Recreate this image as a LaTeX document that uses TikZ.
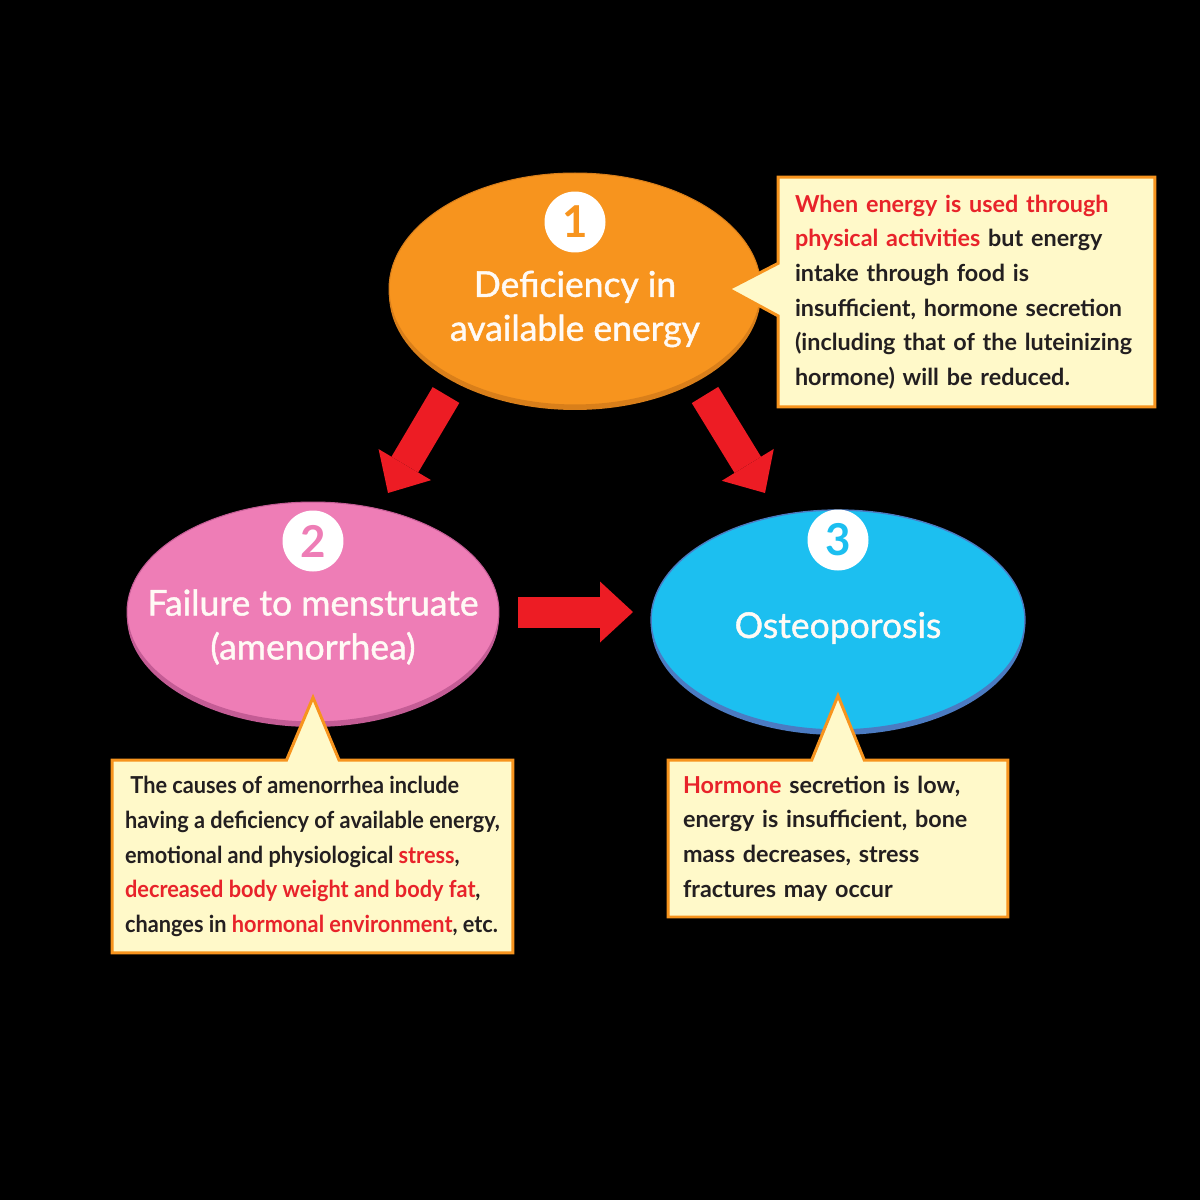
\documentclass[tikz,border=0pt]{standalone}
\usepackage{fontspec}
\setmainfont{Lato}
\newfontfamily\stagefont[FakeBold=1.2]{Lato}
\newfontfamily\narrowfont[FakeStretch=0.93]{Lato}
\usetikzlibrary{shapes.geometric, shapes.callouts, shadows, arrows.meta, calc, positioning}

\definecolor{orangefill}{HTML}{F7941E}
\definecolor{orangerim}{HTML}{D97F1A}
\definecolor{pinkfill}{HTML}{EE7DB6}
\definecolor{pinkrim}{HTML}{C45C95}
\definecolor{bluefill}{HTML}{1CBFF0}
\definecolor{bluerim}{HTML}{4B7BC2}
\definecolor{boxfill}{HTML}{FFF9C9}
\definecolor{boxline}{HTML}{F7941E}
\definecolor{boxtext}{HTML}{231F20}
\definecolor{hilite}{HTML}{E8232A}
\definecolor{arrowred}{HTML}{ED1C24}

\tikzset{
    stage/.style={ellipse, minimum width=7.44cm, minimum height=4.4cm, inner sep=0pt}, % the three ovals
    numcirc/.style={circle, fill=white, minimum size=1.22cm, inner sep=0pt, font=\bfseries\fontsize{25}{25}\selectfont},
    stagetext/.style={text=white!96!orange, align=center, font=\stagefont\fontsize{20.2}{25}\selectfont},
    notebox/.style={rectangle callout, draw=boxline, line width=1.7pt, fill=boxfill, align=left,
        text=boxtext, callout pointer width=1.05cm, font=\bfseries\fontsize{13.3}{19.7}\selectfont},
    bigarrow/.style={draw=arrowred, line width=0.62cm, -{Triangle[width=1.22cm, length=0.66cm, line width=0pt]}}
}
\newcommand{\hl}[1]{\textcolor{hilite}{#1}}

\begin{document}
\begin{tikzpicture}[x=0.02cm, y=-0.02cm]
    \fill[black] (0,0) rectangle (1200,1200);
    \useasboundingbox (0,0) rectangle (1200,1200);

    % Ovals
    \node[stage, minimum height=4.64cm, fill=orangefill, draw=orangerim, line width=0.6pt,
        drop shadow={shadow xshift=0pt, shadow yshift=-0.1cm, fill=orangerim, opacity=1}] (e1) at (575,289) {};
    \node[stage, fill=pinkfill, draw=pinkrim, line width=0.6pt,
        drop shadow={shadow xshift=0pt, shadow yshift=-0.1cm, fill=pinkrim, opacity=1}] (e2) at (313,612) {};
    \node[stage, minimum width=7.48cm, fill=bluefill, draw=bluerim, line width=0.8pt,
        drop shadow={shadow xshift=0pt, shadow yshift=-0.1cm, fill=bluerim, opacity=1}] (e3) at (838,620) {};

    \node[numcirc, text=orangefill] (n1) at ($(e1.center)+(0,-67)$) {1};
    \node[numcirc, text=pinkfill] (n2) at ($(e2.center)+(0,-71)$) {2};
    \node[numcirc, text=bluefill] (n3) at ($(e3.center)+(0,-80)$) {3};

    \node[stagetext] (t1) at ($(e1.center)+(0,20)$) {Deficiency in\\available energy};
    \node[stagetext] (t2) at ($(e2.center)+(0,15)$) {Failure to menstruate\\(amenorrhea)};
    \node[stagetext] (t3) at ($(e3.center)+(0,8)$) {Osteoporosis};

    % Arrows
    \coordinate (a12s) at (446,395);
    \coordinate (a12e) at (388,493);
    \coordinate (a13s) at (705,395);
    \coordinate (a13e) at (765,493);
    \coordinate (a23s) at (518,612);
    \coordinate (a23e) at (633,612);
    \draw[bigarrow] (a12s) -- (a12e);
    \draw[bigarrow] (a13s) -- (a13e);
    \draw[bigarrow] (a23s) -- (a23e);

    % Notes
    \node[notebox, minimum width=7.54cm, minimum height=4.6cm, text width=6.86cm, inner xsep=0.34cm,
        callout absolute pointer={([xshift=-0.66cm]e1.east)}] (b1) at (966.5,292)
        {\hl{When energy is used through}\\
         \hl{physical activities} but energy\\
         intake through food is\\
         insufficient, hormone secretion\\
         (including that of the luteinizing\\
         hormone) will be reduced.};
    \node[notebox, minimum width=8.02cm, minimum height=3.86cm, inner xsep=0.2cm,
        font=\narrowfont\bfseries\fontsize{13.3}{19.7}\selectfont,
        callout absolute pointer={([yshift=0.5cm]e2.south)}] (b2) at (312.5,856.5)
        {\ The causes of amenorrhea include\\
         having a deficiency of available energy,\\
         emotional and physiological \hl{stress},\\
         \hl{decreased body weight and body fat},\\
         changes in \hl{hormonal environment}, etc.};
    \node[notebox, minimum width=6.8cm, minimum height=3.14cm, text width=6.2cm, inner xsep=0.3cm,
        callout absolute pointer={([yshift=0.7cm]e3.south)}] (b3) at (838,838.5)
        {\hl{Hormone} secretion is low,\\
         energy is insufficient, bone\\
         mass decreases, stress\\
         fractures may occur};
\end{tikzpicture}
\end{document}
